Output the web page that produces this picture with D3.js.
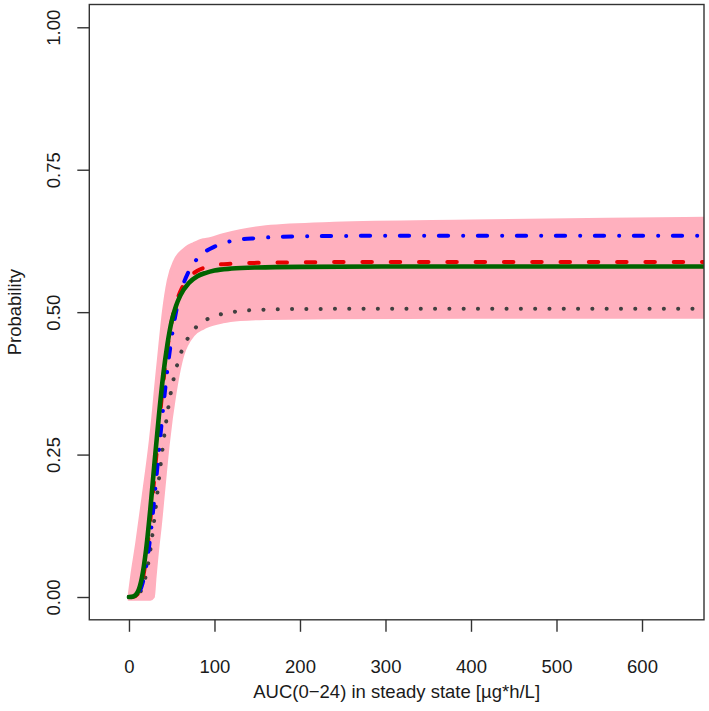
<!DOCTYPE html>
<html>
<head>
<meta charset="utf-8">
<script src="https://cdn.jsdelivr.net/npm/d3@7/dist/d3.min.js"></script>
<style>
  html, body { margin: 0; padding: 0; background: #ffffff; }
  svg { display: block; }
  text { font-family: "Liberation Sans", Arial, Helvetica, sans-serif; fill: #1a1a1a; }
</style>
</head>
<body>
<svg id="chart" width="709" height="711"></svg>
<script>
// ---- Data ----
const xTicks = [0, 100, 200, 300, 400, 500, 600];
const yTicks = [0, 0.25, 0.5, 0.75, 1];
const yTickLabels = ["0.00", "0.25", "0.50", "0.75", "1.00"];
const xTitle = "AUC(0\u221224) in steady state [\u00b5g*h/L]";
const yTitle = "Probability";

const auc = [0, 5, 10, 15, 20, 25, 30, 35, 40, 45, 50, 55, 60, 70, 80, 90, 100, 120, 150, 200, 300, 400, 500, 600, 700];
const solidGreen = [0, 0.001, 0.008, 0.033, 0.083, 0.155, 0.238, 0.318, 0.389, 0.444, 0.485, 0.511, 0.529, 0.551, 0.563, 0.569, 0.573, 0.5765, 0.5785, 0.5795, 0.58, 0.58, 0.58, 0.58, 0.58];
const dashedRed  = [0, 0.0005, 0.005, 0.024, 0.068, 0.135, 0.215, 0.298, 0.375, 0.437, 0.484, 0.515, 0.536, 0.5605, 0.5726, 0.579, 0.5826, 0.585, 0.5865, 0.5875, 0.588, 0.588, 0.588, 0.588, 0.588];
const dotDashBlue = [0, 0.0005, 0.0047, 0.0197, 0.0527, 0.1066, 0.178, 0.2564, 0.332, 0.40, 0.456, 0.50, 0.532, 0.572, 0.594, 0.607, 0.615, 0.625, 0.630, 0.633, 0.634, 0.634, 0.634, 0.634, 0.634];
const dottedGrey = [0, 0.0003, 0.0031, 0.0141, 0.0394, 0.0824, 0.141, 0.206, 0.269, 0.323, 0.367, 0.400, 0.425, 0.457, 0.476, 0.4865, 0.493, 0.4999, 0.504, 0.5055, 0.506, 0.506, 0.506, 0.506, 0.506];

// prediction band (upper and lower edges on a common AUC grid)
const bandX     = [0, 3, 9, 17, 25, 28.5, 30.5, 34.3, 36.3, 40.2, 46, 53.8, 63.5, 67.5, 75.2, 87, 91, 110, 130, 160, 240, 400, 560, 700];
const bandUpper = [0, 0.035, 0.094, 0.182, 0.275, 0.325, 0.358, 0.415, 0.445, 0.50, 0.556, 0.591, 0.609, 0.614, 0.620, 0.627, 0.628, 0.636, 0.643, 0.650, 0.656, 0.660, 0.663, 0.665];
const bandLower = [-0.004, -0.004, -0.004, -0.004, -0.004, 0, 0.035, 0.094, 0.12, 0.18, 0.269, 0.357, 0.4275, 0.442, 0.46, 0.472, 0.475, 0.483, 0.487, 0.489, 0.49, 0.491, 0.491, 0.491];

// ---- Layout ----
const svg = d3.select("#chart");
const plotL = 89.3, plotR = 704, plotT = 4.5, plotB = 619.8;
const fontSize = "18.5px";

const x = d3.scaleLinear().domain([-46.4, 672.5]).range([plotL, plotR]);
const y = d3.scaleLinear().domain([-0.04, 1.04]).range([plotB, plotT]);

svg.append("defs").append("clipPath").attr("id", "plotclip")
  .append("rect").attr("x", plotL).attr("y", plotT)
  .attr("width", plotR - plotL).attr("height", plotB - plotT);

const g = svg.append("g").attr("clip-path", "url(#plotclip)");

// band
const area = d3.area()
  .x((d, i) => x(bandX[i]))
  .y0((d, i) => y(bandLower[i]))
  .y1((d, i) => y(bandUpper[i]))
  .curve(d3.curveMonotoneX);
g.append("path")
  .attr("d", area(bandX))
  .attr("fill", "#FFB0BE")
  .attr("stroke", "#FFB0BE")
  .attr("stroke-width", 3)
  .attr("stroke-linejoin", "round");

const line = d3.line().x(d => x(d[0])).y(d => y(d[1])).curve(d3.curveMonotoneX);
const series = [
  { vals: dottedGrey, color: "#404040", width: 4, dash: "0.1 14.2" },
  { vals: dashedRed, color: "#E60000", width: 4, dash: "9.5 18.8" },
  { vals: dotDashBlue, color: "#0000FF", width: 4, dash: "0.1 14.6 9.3 15" },
  { vals: solidGreen, color: "#006400", width: 4.6, dash: null }
];
series.forEach(s => {
  g.append("path")
    .attr("d", line(auc.map((v, i) => [v, s.vals[i]])))
    .attr("fill", "none")
    .attr("stroke", s.color)
    .attr("stroke-width", s.width)
    .attr("stroke-linecap", "round")
    .attr("stroke-linejoin", "round")
    .attr("stroke-dasharray", s.dash);
});

// box
svg.append("rect")
  .attr("x", plotL).attr("y", plotT)
  .attr("width", plotR - plotL).attr("height", plotB - plotT)
  .attr("fill", "none").attr("stroke", "#333").attr("stroke-width", 1.4);

// x axis
const xAxis = svg.append("g").attr("transform", `translate(0,${plotB})`)
  .call(d3.axisBottom(x).tickValues(xTicks).tickFormat(d3.format("d")).tickSize(12).tickPadding(28.5));
xAxis.select(".domain").remove();
xAxis.selectAll("line").attr("stroke", "#333").attr("stroke-width", 1.4);
xAxis.selectAll("text").attr("font-size", fontSize).attr("fill", "#1a1a1a")
  .style("font-family", "'Liberation Sans', Arial, sans-serif");

// y axis
const yAxis = svg.append("g").attr("transform", `translate(${plotL},0)`)
  .call(d3.axisLeft(y).tickValues(yTicks).tickFormat((d, i) => yTickLabels[i]).tickSize(12));
yAxis.select(".domain").remove();
yAxis.selectAll("line").attr("stroke", "#333").attr("stroke-width", 1.4);
yAxis.selectAll("text")
  .attr("transform", "rotate(-90)")
  .attr("x", 0).attr("y", -(plotL - 60)).attr("dy", null)
  .attr("text-anchor", "middle")
  .attr("font-size", fontSize).attr("fill", "#1a1a1a")
  .style("font-family", "'Liberation Sans', Arial, sans-serif");

// titles
svg.append("text")
  .attr("x", (plotL + plotR) / 2).attr("y", 698)
  .attr("text-anchor", "middle").attr("font-size", fontSize)
  .text(xTitle);
svg.append("text")
  .attr("transform", `translate(20.5,${(plotT + plotB) / 2}) rotate(-90)`)
  .attr("text-anchor", "middle").attr("font-size", fontSize)
  .text(yTitle);
</script>
</body>
</html>
